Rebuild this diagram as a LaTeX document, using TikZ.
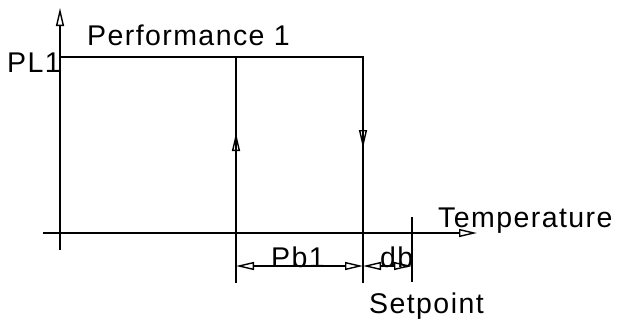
\documentclass[tikz,border=0pt]{standalone}
\usepackage{fontspec}
\setmainfont{Liberation Sans}[LetterSpace=5]
\usetikzlibrary{arrows.meta}
\begin{document}
\begin{tikzpicture}[x=1pt,y=-1pt,
  line/.style={line width=1.8pt, line cap=rect},
  thin line/.style={line width=1.4pt},
  tip/.style={-{Triangle[open,length=18pt,width=8pt,line width=1.4pt]}},
  dimtips/.style={{Triangle[open,length=18pt,width=8pt,line width=1.4pt]}-{Triangle[open,length=18pt,width=8pt,line width=1.4pt]}},
  lbl/.style={anchor=base west, inner sep=0pt, font=\fontsize{28.5}{28.5}\selectfont}]
\useasboundingbox (0,0) rectangle (619,322);
% coordinates
\coordinate (yb) at (60,250);
\coordinate (yt) at (60,8);
\coordinate (xl) at (43,233);
\coordinate (xr) at (477,233);
\coordinate (pl) at (60,57);
\coordinate (pr) at (363,57);
\coordinate (lt) at (236,57);
\coordinate (lb) at (236,282);
\coordinate (rb) at (363,282);
\coordinate (sp) at (412,217);
\coordinate (spb) at (412,282);
\coordinate (ua) at (236,152);
\coordinate (ub) at (236,133);
\coordinate (da) at (363,130);
\coordinate (db) at (363,148);
\coordinate (d1) at (236,266);
\coordinate (d2) at (363,266);
\coordinate (d3) at (412,266);
% axes
\draw[thin line, tip] (yb) -- (yt);
\draw[thin line, tip] (xl) -- (xr);
% curve
\draw[line] (pl) -- (pr) -- (rb);
\draw[line] (lt) -- (lb);
\draw[thin line] (sp) -- (spb);
% direction arrows
\draw[thin line, tip] (ua) -- (ub);
\draw[thin line, tip] (da) -- (db);
% dimensions
\draw[thin line, dimtips] (d1) -- (d2);
\draw[thin line, dimtips] (d2) -- (d3);
% labels
\node[lbl] (perf) at (87,45) {Performance 1};
\node[lbl] (pl1) at (7,72) {PL1};
\node[lbl] (temp) at (438,227) {Temperature};
\node[lbl] (pb1) at (271,267) {Pb1};
\node[lbl] (dbl) at (380,267) {db};
\node[lbl] (setp) at (369,313) {Setpoint};
\end{tikzpicture}
\end{document}
